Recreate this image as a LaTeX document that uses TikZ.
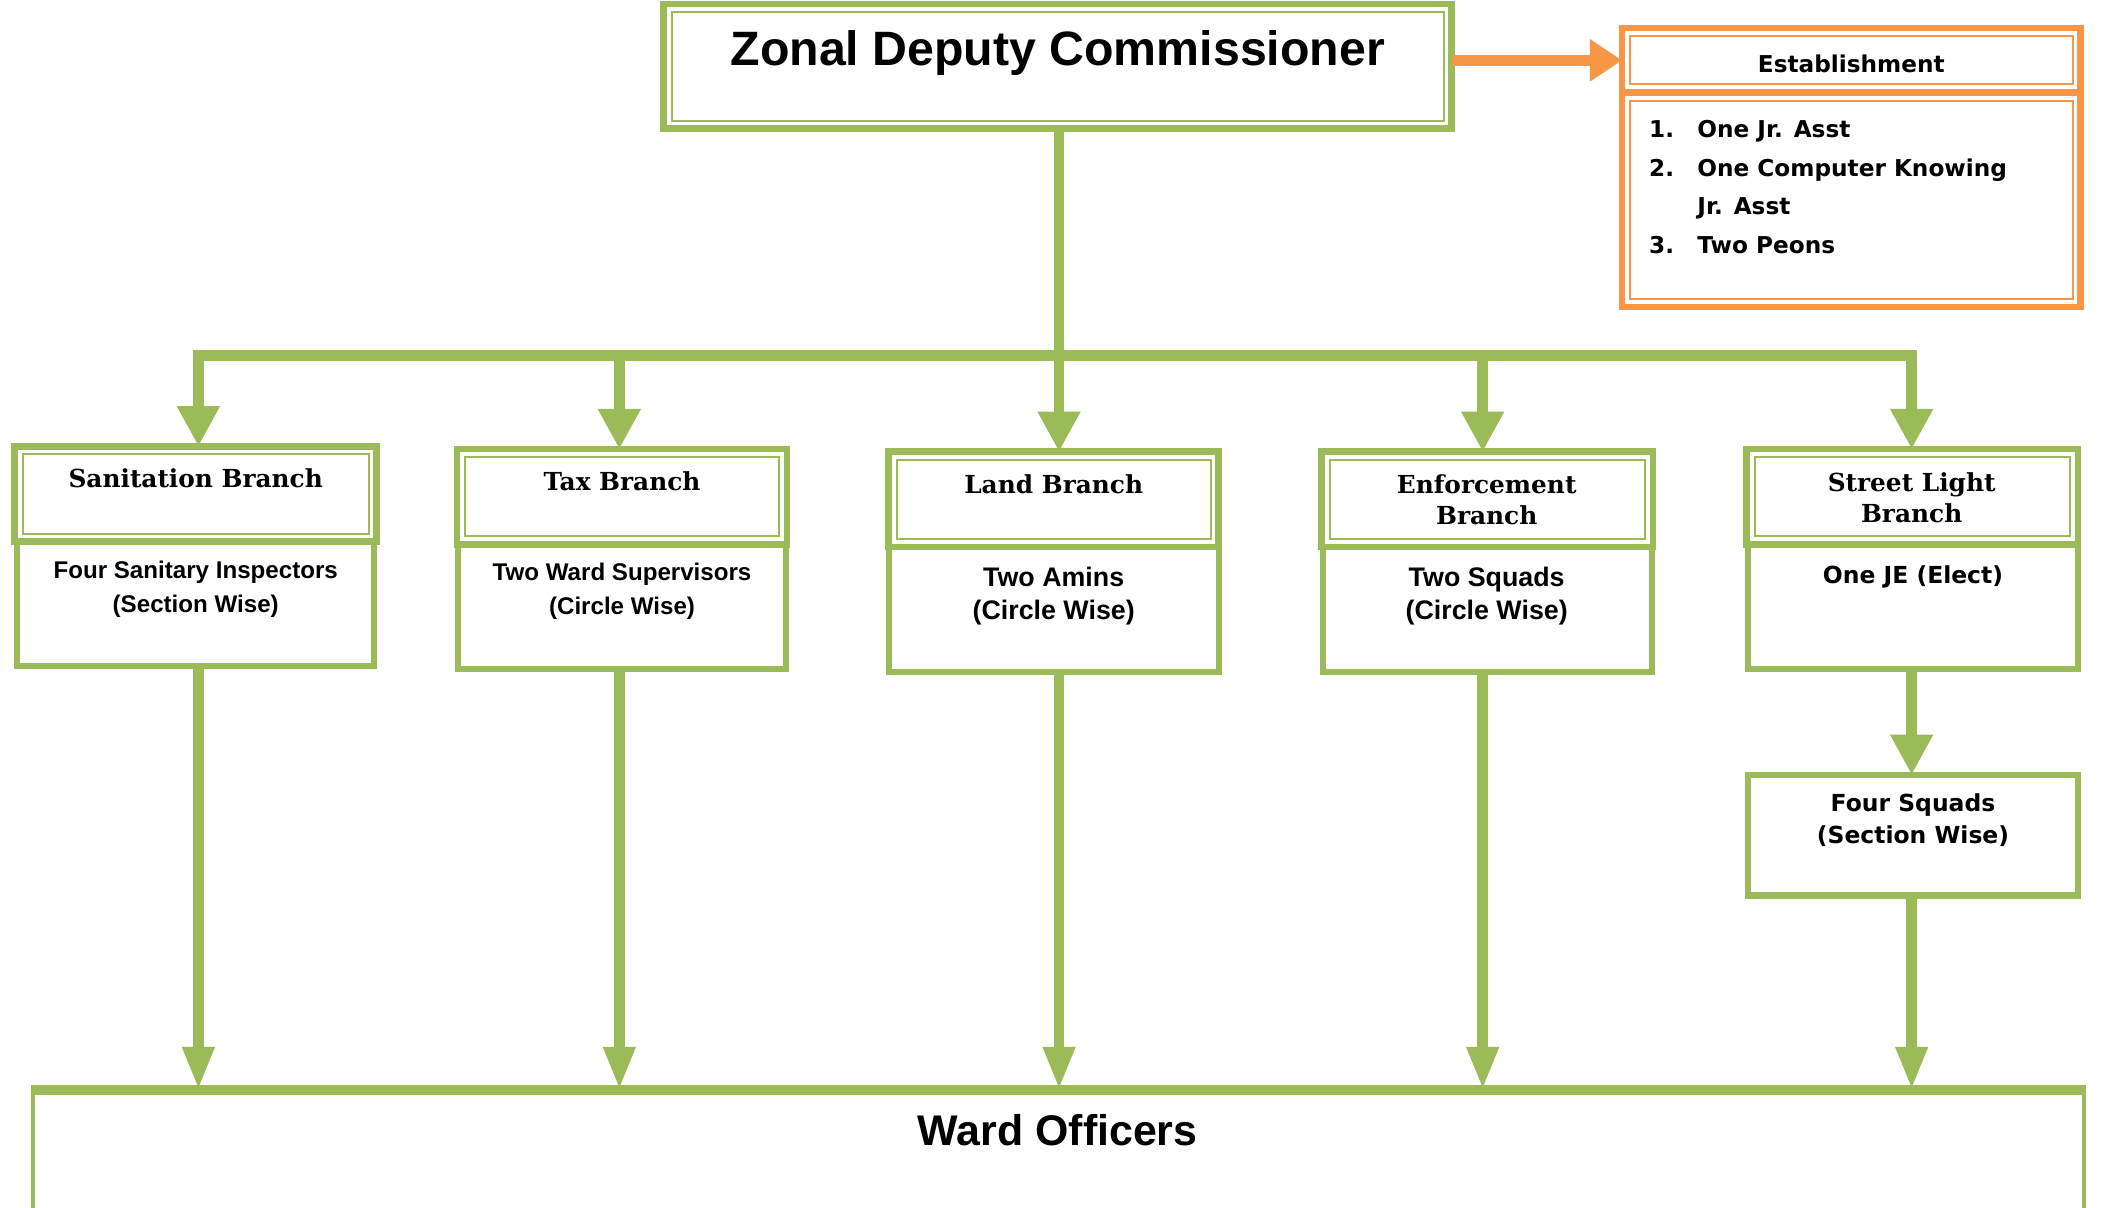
\documentclass[tikz,border=0pt]{standalone}
\usepackage{fontspec}
\setmainfont{Liberation Sans}
\newfontfamily\serifb{DejaVu Serif}
\newfontfamily\verd{DejaVu Sans}
\usetikzlibrary{arrows.meta}
\definecolor{grn}{HTML}{9BBB59}
\definecolor{org}{HTML}{F79646}
\begin{document}
\begin{tikzpicture}[x=1pt,y=1pt,
  gbox/.style={draw=grn, line width=5, fill=white, inner sep=0, outer sep=0},
  bbox/.style={draw=grn, line width=4.5, fill=white, inner sep=0, outer sep=0},
  obox/.style={draw=org, line width=5, fill=white, inner sep=0, outer sep=0},
  gthin/.style={draw=grn, line width=1.5},
  othin/.style={draw=org, line width=1.5},
  conn/.style={draw=grn, line width=8},
  arrA/.style={conn, -{Triangle[width=30,length=30]}},
  arrB/.style={conn, -{Triangle[width=22,length=32]}},
  oarr/.style={draw=org, line width=8, -{Triangle[width=30,length=24]}},
  hdr/.style={font=\serifb\bfseries\fontsize{18.5}{23}\selectfont, align=center, inner sep=0},
  bodyA/.style={font=\bfseries\fontsize{18}{25}\selectfont, align=center, inner sep=0},
  bodyB/.style={font=\bfseries\fontsize{20}{25}\selectfont, align=center, inner sep=0},
  bodyV/.style={font=\verd\bfseries\fontsize{17.5}{24}\selectfont, align=center, inner sep=0},
  estt/.style={font=\verd\bfseries\fontsize{17.3}{20}\selectfont, inner sep=0},
]
\useasboundingbox (0,0) rectangle (1568,-901);
\fill[white] (0,0) rectangle (1568,-901);

% Top box
\node[gbox, minimum width=588, minimum height=93] (zdc) at (789,-49.5) {};
\draw[gthin] ([shift={(6,-6)}]zdc.north west) rectangle ([shift={(-6,6)}]zdc.south east);
\node[font=\bfseries\fontsize{36}{40}\selectfont, inner sep=0, anchor=base] (zdct) at (789,-49) {Zonal Deputy Commissioner};

% Establishment
\node[obox, minimum width=342, minimum height=160] (estb) at (1381,-149) {};
\node[obox, minimum width=342, minimum height=48] (esth) at (1381,-45) {};
\draw[othin] ([shift={(6,-6)}]esth.north west) rectangle ([shift={(-6,6)}]esth.south east);
\draw[othin] ([shift={(6,-6)}]estb.north west) rectangle ([shift={(-6,6)}]estb.south east);
\node[estt, anchor=base] (estht) at (1381,-54.3) {Establishment};
\node[estt, anchor=base west] (e1n) at (1230,-102.3) {1.};
\node[estt, anchor=base west] (e1t) at (1266,-102.3) {One Jr. Asst};
\node[estt, anchor=base west] (e2n) at (1230,-131.3) {2.};
\node[estt, anchor=base west] (e2t) at (1266,-131.3) {One Computer Knowing};
\node[estt, anchor=base west] (e2u) at (1266,-160.3) {Jr. Asst};
\node[estt, anchor=base west] (e3n) at (1230,-189.3) {3.};
\node[estt, anchor=base west] (e3t) at (1266,-189.3) {Two Peons};

\draw[oarr] (zdc.east |- esth.west) -- (esth.west);

% Branch boxes: bodies first, then headers
\node[bbox, minimum width=266, minimum height=93] (b1b) at (146,-450.5) {};
\node[gbox, minimum width=270, minimum height=71] (b1h) at (146,-368.5) {};
\node[bbox, minimum width=244, minimum height=93] (b2b) at (464,-452.5) {};
\node[gbox, minimum width=246, minimum height=71] (b2h) at (464,-370.5) {};
\node[bbox, minimum width=246, minimum height=93] (b3b) at (786,-454.5) {};
\node[gbox, minimum width=246, minimum height=71] (b3h) at (786,-372.5) {};
\node[bbox, minimum width=245, minimum height=93] (b4b) at (1109.5,-454.5) {};
\node[gbox, minimum width=247, minimum height=71] (b4h) at (1109.5,-372.5) {};
\node[bbox, minimum width=246, minimum height=93] (b5b) at (1427,-452.5) {};
\node[gbox, minimum width=247, minimum height=71] (b5h) at (1426.5,-370.5) {};
\node[bbox, minimum width=246, minimum height=90] (b6) at (1427,-623) {};
\foreach \n in {b1h,b2h,b3h,b4h,b5h}{
  \draw[gthin] ([shift={(6,-6)}]\n.north west) rectangle ([shift={(-6,6)}]\n.south east);
}

% Ward officers
\node[draw=grn, line width=2.5, fill=white, inner sep=0, outer sep=0, minimum width=1530, minimum height=120, anchor=north] (ward) at (789.5,-813) {};
\draw[grn, line width=7] ([xshift=-1.25]ward.north west) -- ([xshift=1.25]ward.north east);
\node[font=\bfseries\fontsize{32}{36}\selectfont, inner sep=0, anchor=base] (wardt) at (789,-854.5) {Ward Officers};

% Texts
\node[hdr] (b1t) at (146,-357) {Sanitation Branch};
\node[hdr] (b2t) at (464,-359) {Tax Branch};
\node[hdr] (b3t) at (786,-361) {Land Branch};
\node[hdr] (b4t) at (1109,-372.5) {Enforcement\\Branch};
\node[hdr] (b5t) at (1426,-371) {Street Light\\Branch};
\node[bodyA] (b1x) at (146,-439.5) {Four Sanitary Inspectors\\(Section Wise)};
\node[bodyA] (b2x) at (464,-441) {Two Ward Supervisors\\(Circle Wise)};
\node[bodyB] (b3x) at (786,-444.5) {Two Amins\\(Circle Wise)};
\node[bodyB] (b4x) at (1109,-444.5) {Two Squads\\(Circle Wise)};
\node[bodyV] (b5x) at (1427,-430) {One JE (Elect)};
\node[bodyV] (b6x) at (1427,-612) {Four Squads\\(Section Wise)};

% Connectors
\coordinate (d1) at (148,-265);
\coordinate (d2) at (462,-265);
\coordinate (d3) at (790,-265);
\coordinate (d4) at (1106,-265);
\coordinate (d5) at (1426,-265);
\draw[conn] (zdc.south -| d3) -- (d3);
\draw[conn, line cap=rect] (d1) -- (d5);
\draw[arrA] (d1) -- (d1 |- b1h.north);
\draw[arrA] (d2) -- (d2 |- b2h.north);
\draw[arrA] (d3) -- (d3 |- b3h.north);
\draw[arrA] (d4) -- (d4 |- b4h.north);
\draw[arrA] (d5) -- (d5 |- b5h.north);

\draw[arrB] (b1b.south -| d1) -- (d1 |- ward.north);
\draw[arrB] (b2b.south -| d2) -- (d2 |- ward.north);
\draw[arrB] (b3b.south -| d3) -- (d3 |- ward.north);
\draw[arrB] (b4b.south -| d4) -- (d4 |- ward.north);
\draw[arrA] (b5b.south -| d5) -- (d5 |- b6.north);
\draw[arrB] (b6.south -| d5) -- (d5 |- ward.north);
\end{tikzpicture}
\end{document}
